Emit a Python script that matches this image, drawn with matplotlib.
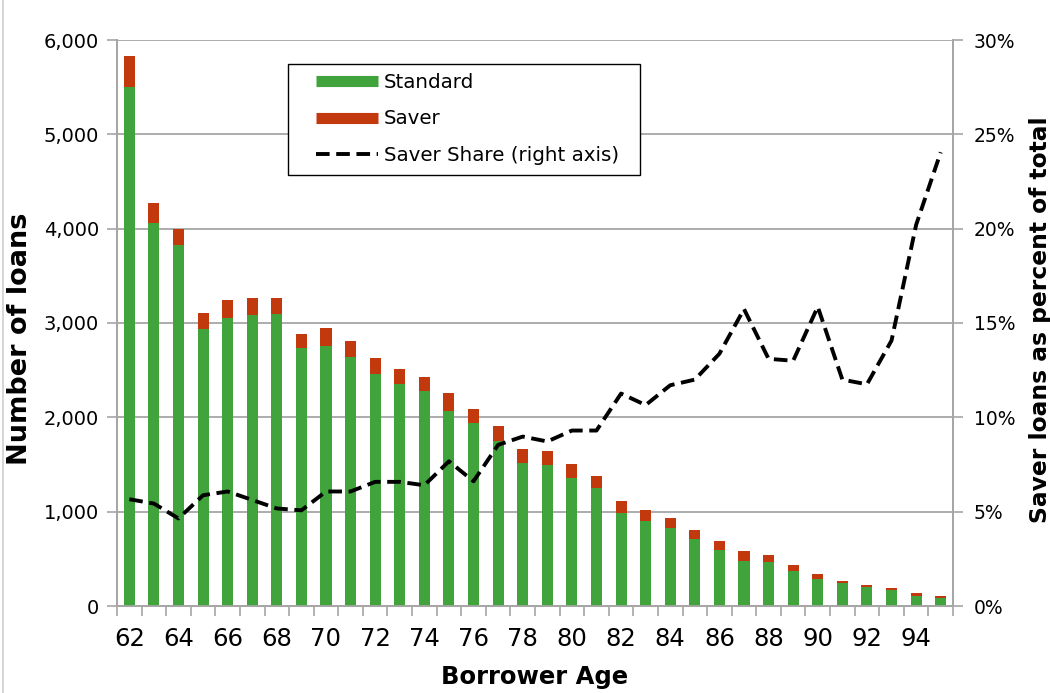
import matplotlib
matplotlib.use("Agg")
import matplotlib.pyplot as plt
from matplotlib.lines import Line2D
from matplotlib.patches import Rectangle
from matplotlib.ticker import FuncFormatter, FixedLocator
import numpy as np

ages = list(range(62, 96))
standard = [5500, 4055, 3825, 2935, 3048, 3084, 3095, 2736, 2760, 2639, 2455, 2355,
            2277, 2070, 1937, 1747, 1519, 1495, 1358, 1246, 989, 905, 828, 705,
            593, 481, 470, 375, 288, 239, 200, 165, 102, 81]
saver = [330, 222, 175, 172, 196, 183, 172, 148, 187, 171, 172, 162,
         151, 183, 147, 165, 144, 144, 147, 133, 123, 109, 109, 99,
         98, 101, 74, 60, 49, 24, 25, 24, 38, 21]
share = [5.66, 5.43, 4.64, 5.87, 6.07, 5.62, 5.17, 5.07, 6.07, 6.07, 6.58, 6.58,
         6.40, 7.67, 6.61, 8.54, 8.98, 8.72, 9.30, 9.30, 11.26, 10.65, 11.70, 12.0,
         13.37, 15.74, 13.1, 13.0, 15.86, 12.0, 11.75, 14.07, 20.2, 24.05]
xlabels = [str(a) if a % 2 == 0 else "" for a in ages]
legend_labels = ["Standard", "Saver", "Saver Share (right axis)"]

GREEN = "#40A33B"
RED = "#C2390E"
GRID = "#A6A6A6"
W, H = 1050, 693

plt.rcParams['font.family'] = ['DejaVu Sans']

fig = plt.figure(figsize=(W / 100, H / 100), dpi=100)
ax = fig.add_axes([117 / W, 1 - 606 / H, (953 - 117) / W, (606 - 40) / H])
ax2 = ax.twinx()

x = np.arange(len(ages))
w = 0.45
dash = (0, (3.5, 1.7))
ax.bar(x, standard, width=w, color=GREEN, zorder=3)
ax.bar(x, saver, width=w, bottom=standard, color=RED, zorder=3)
ax2.plot(x, share, color="black", lw=2.8, linestyle=dash, zorder=4)

ax.set_xlim(-0.5, len(ages) - 0.5)
ax.set_ylim(0, 6000)
ax2.set_ylim(0, 30)
ax.set_yticks(np.arange(0, 6001, 1000))
ax2.set_yticks(np.arange(0, 31, 5))
ax.yaxis.set_major_formatter(FuncFormatter(lambda v, p: f"{int(v):,}"))
ax2.yaxis.set_major_formatter(FuncFormatter(lambda v, p: f"{int(v)}%"))

ax.set_xticks(x)
ax.set_xticklabels(xlabels)
ax.xaxis.set_minor_locator(FixedLocator(np.arange(-0.5, len(ages), 1.0)))
ax.tick_params(axis='x', which='major', length=0, labelsize=17.5, pad=15, colors='black')
ax.tick_params(axis='x', which='minor', length=7, width=1.2, color=GRID, direction='out')
ax.tick_params(axis='y', length=7, width=1.2, color=GRID, labelsize=14, pad=6)
ax2.tick_params(axis='y', length=7, width=1.2, color=GRID, labelsize=13.5, pad=8)

ax.grid(axis='y', color=GRID, lw=1.3, zorder=0)
ax.set_axisbelow(True)
for a in (ax, ax2):
    a.spines['top'].set_visible(False)
    for s in ('left', 'right', 'bottom'):
        a.spines[s].set_color(GRID)
        a.spines[s].set_linewidth(1.3)

ax.set_xlabel("Borrower Age", fontsize=17.5, fontweight='bold', labelpad=10)
ax.set_ylabel("Number of loans", fontsize=19.5, fontweight='bold')
ax.yaxis.set_label_coords(-84 / 836, 0.472)
ax2.set_ylabel("Saver loans as percent of total", fontsize=16.8, fontweight='bold')
ax2.yaxis.set_label_coords(1 + 76 / 836, 0.505)

# legend frame
frame = Rectangle((288 / W, 1 - 175 / H), 352 / W, 111 / H, transform=fig.transFigure,
                  facecolor='white', edgecolor='black', lw=1.0, zorder=10)
ax2.add_patch(frame)
frame.set_clip_on(False)

handles = [Line2D([], [], color=GREEN, lw=8, solid_capstyle='butt'),
           Line2D([], [], color=RED, lw=8, solid_capstyle='butt'),
           Line2D([], [], color='black', lw=2.8, linestyle=dash)]
leg = ax2.legend(handles, legend_labels,
                 loc='upper left', bbox_to_anchor=(316 / W, 1 - 73 / H),
                 bbox_transform=fig.transFigure,
                 fontsize=14.3, frameon=False, handlelength=3.1, labelspacing=0.88,
                 borderpad=0, borderaxespad=0, handletextpad=0.3)
leg.set_zorder(11)

fig.add_artist(Line2D([3 / W, 3 / W], [0, 1], color="#D0D0D0", lw=1.2,
                      transform=fig.transFigure))

fig.savefig("out.png", dpi=100)
